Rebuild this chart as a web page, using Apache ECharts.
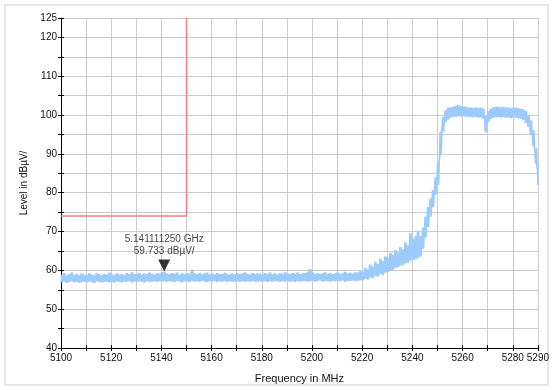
<!DOCTYPE html>
<html>
<head>
<meta charset="utf-8">
<script src="https://cdn.jsdelivr.net/npm/echarts@6/dist/echarts.min.js"></script>
<style>
  html, body { margin: 0; padding: 0; background: #ffffff; }
  #chart { width: 552px; height: 390px; }
</style>
</head>
<body>
<div id="chart"></div>
<script>
// Frequency axis: 1 MHz steps starting at 5100 MHz
const freqStart = 5100;
const freqMin = 5100, freqMax = 5290;
const levelMin = 40, levelMax = 125;

// Lower envelope of the noisy trace (dBµV/), 5100..5290 MHz in 1 MHz steps
const traceLow = [
  56.9, 57.1, 56.8, 57.0, 57.2, 56.9, 57.1, 56.8, 57.0, 57.1,
  56.9, 57.1, 57.0, 56.8, 57.2, 57.0, 56.9, 57.1, 57.0, 56.9,
  57.1, 56.9, 57.2, 57.0, 56.9, 57.1, 57.0, 57.2, 56.9, 57.1,
  57.0, 57.2, 57.1, 56.9, 57.2, 57.0, 57.1, 57.3, 57.0, 57.2,
  57.1, 57.3, 57.0, 57.2, 57.1, 57.0, 57.3, 57.1, 56.9, 57.2,
  57.1, 57.0, 57.3, 57.1, 57.2, 57.0, 57.3, 57.1, 57.0, 57.2,
  57.1, 57.3, 57.0, 57.2, 57.1, 57.3, 57.0, 57.2, 57.1, 57.0,
  57.2, 57.1, 57.3, 57.0, 57.2, 57.1, 57.3, 57.1, 57.0, 57.2,
  57.1, 57.3, 57.0, 57.2, 57.1, 57.3, 57.2, 57.0, 57.2, 57.1,
  57.3, 57.1, 57.2, 57.0, 57.3, 57.1, 57.2, 57.3, 57.1, 57.2,
  57.3, 57.1, 57.2, 57.4, 57.1, 57.3, 57.2, 57.1, 57.3, 57.2,
  57.3, 57.2, 57.4, 57.1, 57.3, 57.2, 57.4, 57.3,
  57.3, 57.5, 57.4, 57.8, 57.6, 58.2, 58.0, 58.6, 58.4, 59.0,
  58.8, 59.4, 59.6, 60.0, 60.2, 60.6, 60.8, 61.2, 61.4, 61.8,
  62.0, 62.4, 62.6, 62.8, 63.2, 63.5, 65.6, 68.5, 71.2, 73.8,
  76.3, 79.5, 82.0, 89.7, 95.7, 98.2, 98.9, 99.3, 99.5, 99.6,
  99.8, 99.6, 99.8, 99.5, 99.6, 99.5, 99.4, 99.5, 99.3, 99.4,
  99.1, 95.6, 98.2, 99.0, 99.3, 99.5, 99.5, 99.4, 99.5, 99.3,
  99.4, 99.2, 99.4, 99.3, 99.2, 99.0, 98.7, 98.0, 97.0, 94.8,
  92.0, 87.5, 82.0
];

// Upper envelope of the noisy trace (dBµV/), 5100..5290 MHz in 1 MHz steps
const traceHigh = [
  58.9, 59.3, 58.7, 59.0, 59.4, 58.8, 59.1, 58.7, 59.2, 58.9,
  58.8, 59.2, 58.9, 58.7, 59.3, 59.0, 58.8, 59.1, 58.9, 59.4,
  59.0, 58.8, 59.2, 58.9, 59.1, 58.8, 59.3, 59.0, 59.5, 59.1,
  59.0, 59.3, 58.9, 59.2, 59.0, 59.4, 59.1, 58.9, 59.3, 59.2,
  59.5, 59.7, 59.2, 59.0, 59.3, 59.1, 59.4, 58.9, 59.2, 59.0,
  59.3, 59.1, 60.2, 59.2, 59.0, 59.3, 58.9, 59.2, 59.4, 59.0,
  59.2, 58.9, 59.3, 59.1, 59.0, 59.4, 59.1, 58.9, 59.2, 59.0,
  59.3, 59.0, 59.2, 59.5, 59.1, 58.9, 59.3, 59.0, 59.2, 59.1,
  59.0, 59.3, 59.1, 59.4, 59.0, 59.2, 58.9, 59.3, 59.1, 59.5,
  59.2, 59.0, 59.3, 59.1, 59.4, 59.0, 59.2, 59.3, 59.6, 60.3,
  59.4, 59.1, 59.3, 59.0, 59.2, 59.5, 59.1, 59.3, 59.0, 59.2,
  59.4, 59.1, 59.3, 59.6, 59.2, 59.4, 59.1, 59.5,
  59.4, 59.8, 59.5, 60.6, 60.2, 61.5, 61.0, 62.2, 61.6, 63.0,
  62.4, 63.6, 63.2, 64.5, 64.0, 65.2, 64.6, 66.0, 65.4, 67.2,
  66.4, 69.6, 68.2, 68.8, 70.2, 68.8, 71.0, 73.8, 76.3, 78.5,
  80.6, 84.0, 87.5, 95.7, 99.5, 101.3, 101.9, 102.0, 102.1, 102.4,
  102.6, 102.3, 102.1, 102.2, 101.9, 102.0, 101.8, 102.0, 101.8, 101.9,
  101.7, 99.8, 101.0, 101.6, 102.0, 102.1, 102.2, 102.0, 102.1, 101.9,
  102.0, 101.8, 101.9, 101.9, 101.8, 101.6, 101.5, 101.0, 100.0, 98.6,
  96.0, 91.5, 85.5
];

// Limit line (red)
const limitFreq = [5100, 5150, 5150];
const limitLevel = [74, 74, 125];

// Marker
const markerFreq = 5141.11125;
const markerLevel = 59.733;
const markerText = ['5.141111250 GHz', '59.733 dBµV/'];

// Axis titles
const xTitle = 'Frequency in MHz';
const yTitle = 'Level in dBµV/';

// Build two phase-shifted zig-zag traces from the envelopes
const traceA = [];
const traceB = [];
for (let i = 0; i < traceLow.length; i++) {
  const f = freqStart + i;
  const f2 = Math.min(f + 0.5, freqMax);
  traceA.push([f, traceLow[i]]);
  traceA.push([f2, traceHigh[i]]);
  traceB.push([f, traceHigh[i]]);
  traceB.push([f2, traceLow[i]]);
}
const limitData = limitFreq.map((f, i) => [f, limitLevel[i]]);

const font = "'Liberation Sans', Arial, sans-serif";
const txt = '#111111';
const traceColor = '#9ccbfa';
const chart = echarts.init(document.getElementById('chart'), null, { renderer: 'canvas' });

const xBase = {
  type: 'value', min: freqMin, max: freqMax, interval: 10, position: 'bottom'
};
const yBase = {
  type: 'value', min: levelMin, max: levelMax, interval: 5, position: 'left'
};

chart.setOption({
  animation: false,
  backgroundColor: '#ffffff',
  textStyle: { fontFamily: font },
  graphic: [{
    type: 'rect', silent: true, z: -10,
    shape: { x: 5, y: 5, width: 543, height: 380 },
    style: { fill: 'none', stroke: '#dedede', lineWidth: 1.5 }
  }],
  grid: { left: 61, right: 14, top: 18, bottom: 42, containLabel: false },
  xAxis: [
    Object.assign({}, xBase, {
      name: xTitle, nameLocation: 'middle', nameGap: 25,
      nameTextStyle: { fontFamily: font, fontSize: 11, color: txt },
      axisLine: { show: true, lineStyle: { color: '#000', width: 1 } },
      axisTick: { show: true, inside: false, length: 3, lineStyle: { color: '#000' } },
      axisLabel: {
        fontFamily: font, fontSize: 10, color: txt, margin: 5,
        formatter: v => ((v - freqMin) % 20 === 0 || v === freqMax) ? String(v) : ''
      },
      splitLine: { show: true, lineStyle: { color: '#cccccc', width: 1 } }
    }),
    Object.assign({}, xBase, {
      axisLine: { show: false },
      axisTick: { show: true, inside: true, length: 3, lineStyle: { color: '#000' } },
      axisLabel: { show: false },
      splitLine: { show: false }
    })
  ],
  yAxis: [
    Object.assign({}, yBase, {
      name: yTitle, nameLocation: 'middle', nameGap: 30, nameRotate: 90,
      nameTextStyle: { fontFamily: font, fontSize: 10, color: txt },
      axisLine: { show: true, lineStyle: { color: '#000', width: 1 } },
      axisTick: { show: true, inside: false, length: 3, lineStyle: { color: '#000' } },
      axisLabel: {
        fontFamily: font, fontSize: 10, color: txt, margin: 4,
        formatter: v => (v % 10 === 0 || v === levelMax) ? String(v) : ''
      },
      splitLine: { show: true, lineStyle: { color: '#cccccc', width: 1 } }
    }),
    Object.assign({}, yBase, {
      axisLine: { show: false },
      axisTick: { show: true, inside: true, length: 3, lineStyle: { color: '#000' } },
      axisLabel: { show: false },
      splitLine: { show: false }
    })
  ],
  series: [
    {
      name: 'traceA', type: 'line', data: traceA,
      showSymbol: false, symbol: 'none', smooth: false,
      lineStyle: { color: traceColor, width: 1.4 }, z: 3, silent: true
    },
    {
      name: 'traceB', type: 'line', data: traceB,
      showSymbol: false, symbol: 'none', smooth: false,
      lineStyle: { color: traceColor, width: 1.4 }, z: 3, silent: true
    },
    {
      name: 'limit', type: 'line', data: limitData,
      showSymbol: false, symbol: 'none',
      lineStyle: { color: '#ef7f7f', width: 1.5 }, z: 4
    },
    {
      name: 'marker', type: 'scatter', data: [[markerFreq, markerLevel]],
      symbol: 'triangle', symbolRotate: 180, symbolSize: [12, 12], symbolOffset: [0, -6],
      itemStyle: { color: '#000000' }, z: 6,
      label: {
        show: true, position: 'top', distance: 2,
        formatter: markerText.join('\n'),
        fontFamily: font, fontSize: 10, color: txt, lineHeight: 12, align: 'center'
      }
    }
  ]
});
</script>
</body>
</html>
